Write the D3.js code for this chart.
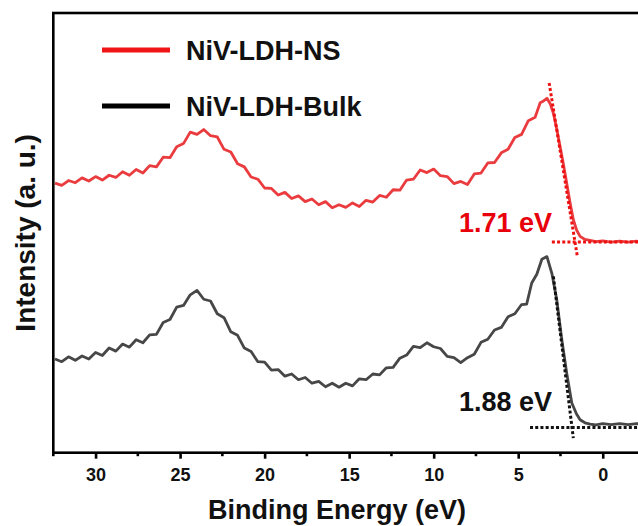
<!DOCTYPE html>
<html><head><meta charset="utf-8">
<script src="https://cdn.jsdelivr.net/npm/d3@7/dist/d3.min.js"></script>
<style>body{margin:0;background:#fff;} text{font-family:"Liberation Sans",Arial,sans-serif;font-weight:bold;}</style>
</head><body>
<script>
// Binding energy (eV) and intensity (a.u.)
const nsEnergy = [32.4,32.0,31.6,31.2,30.8,30.4,30.0,29.6,29.2,28.8,28.4,28.0,27.6,27.2,26.8,26.4,26.0,25.6,25.2,24.8,24.4,24.0,23.6,23.2,22.8,22.4,22.0,21.6,21.2,20.8,20.4,20.0,19.6,19.2,18.8,18.4,18.0,17.6,17.2,16.8,16.4,16.0,15.6,15.2,14.8,14.4,14.0,13.6,13.2,12.8,12.4,12.0,11.6,11.2,10.8,10.4,10.0,9.6,9.2,8.8,8.4,8.0,7.6,7.2,6.8,6.4,6.0,5.6,5.2,4.8,4.4,4.0,3.7,3.5,3.3,3.1,2.92,2.72,2.52,2.32,2.13,1.94,1.74,1.54,1.34,1.05,0.75,0.4,0,-0.5,-1.0,-1.5,-2.0,-2.5];
const nsIntensity = [61.3,60.8,61.9,61.4,62.5,61.8,62.8,62.0,63.1,62.6,63.9,63.1,64.4,63.6,65.3,65.0,67.2,67.1,69.6,70.3,72.9,72.4,73.5,72.1,71.8,69.0,68.4,65.7,65.0,62.7,62.2,60.2,60.1,58.6,59.2,57.8,58.4,57.1,57.7,56.4,57.1,55.7,56.4,55.8,56.8,56.0,57.4,57.0,58.5,58.1,59.8,59.7,62.0,62.2,64.3,63.7,64.5,63.0,62.8,61.2,61.7,61.0,63.4,63.6,65.9,66.0,68.2,69.0,71.7,72.4,75.5,76.3,79.6,80.0,80.6,79.3,77.2,73.6,69.6,65.5,61.3,57.0,53.0,50.6,49.2,48.5,48.3,48.0,48.2,47.9,48.1,47.9,48.1,48.0];
const bulkEnergy = [32.4,32.0,31.6,31.2,30.8,30.4,30.0,29.6,29.2,28.8,28.4,28.0,27.6,27.2,26.8,26.4,26.0,25.6,25.2,24.8,24.4,24.0,23.6,23.2,22.8,22.4,22.0,21.6,21.2,20.8,20.4,20.0,19.6,19.2,18.8,18.4,18.0,17.6,17.2,16.8,16.4,16.0,15.6,15.2,14.8,14.4,14.0,13.6,13.2,12.8,12.4,12.0,11.6,11.2,10.8,10.4,10.0,9.6,9.2,8.8,8.4,8.0,7.6,7.2,6.8,6.4,6.0,5.6,5.2,4.8,4.5,4.2,3.9,3.6,3.3,3.01,2.72,2.42,2.13,1.83,1.55,1.34,1.05,0.75,0.4,0,-0.5,-1.0,-1.5,-2.0,-2.5];
const bulkIntensity = [21.3,20.7,21.8,21.0,22.0,21.3,22.8,22.1,23.8,23.1,24.7,24.0,25.7,25.0,26.8,26.9,29.6,30.3,33.1,33.5,35.9,36.9,34.9,34.5,31.6,30.7,27.5,26.7,23.8,23.0,20.7,20.6,18.8,18.9,17.4,17.9,16.6,17.1,15.8,16.2,15.0,15.8,14.9,15.8,15.2,16.8,16.6,17.9,17.7,19.3,19.4,21.5,22.2,24.2,23.9,25.0,24.1,23.7,21.9,21.6,20.5,21.6,22.4,25.1,25.8,27.9,28.5,30.9,31.6,33.7,33.8,38.6,40.6,44.0,44.6,40.8,34.8,25.7,18.1,11.3,8.8,7.5,6.8,6.5,6.3,6.6,6.4,6.6,6.4,6.6,6.5];
const seriesNames = ["NiV-LDH-NS","NiV-LDH-Bulk"];
const gapLabels = ["1.71 eV","1.88 eV"];
// tangent (extrapolation) lines: [energy, intensity] pairs
const nsEdgeLine = [[3.17,84.1],[1.50,44.6]];
const nsBaseLine = [[3.01,47.9],[-2.5,47.9]];
const bulkEdgeLine = [[2.92,40.1],[1.74,3.3]];
const bulkBaseLine = [[4.30,5.75],[-2.5,5.75]];
const xTicks = [30,25,20,15,10,5,0];
const xMinorTicks = [32.5,27.5,22.5,17.5,12.5,7.5,2.5,-2.5];

const W=638,H=526;
const L=53.3,R=645,T=13,B=452.7;
const svg=d3.select("body").append("svg").attr("width",W).attr("height",H);
const x=d3.scaleLinear().domain([32.5,-2.5]).range([L,R]);
const y=d3.scaleLinear().domain([0,100]).range([B,T]);

svg.append("defs").append("clipPath").attr("id","clip").append("rect")
  .attr("x",L).attr("y",T).attr("width",R-L).attr("height",B-T);
const g=svg.append("g").attr("clip-path","url(#clip)");

const line=d3.line().x(d=>x(d[0])).y(d=>y(d[1]));
const ns=nsEnergy.map((e,i)=>[e,nsIntensity[i]]);
const bulk=bulkEnergy.map((e,i)=>[e,bulkIntensity[i]]);
g.append("path").datum(ns).attr("d",line).attr("fill","none").attr("stroke","#ea3c3f").attr("stroke-width",2.8).attr("stroke-linejoin","round");
g.append("path").datum(bulk).attr("d",line).attr("fill","none").attr("stroke","#474747").attr("stroke-width",2.8).attr("stroke-linejoin","round");

function dotted(data,color){
  g.append("path").datum(data).attr("d",line).attr("fill","none").attr("stroke",color)
   .attr("stroke-width",3).attr("stroke-dasharray","3,2.2");
}
dotted(nsEdgeLine,"#ee1111");
dotted(nsBaseLine,"#ee1111");
dotted(bulkEdgeLine,"#111");
dotted(bulkBaseLine,"#111");

// frame
svg.append("rect").attr("x",L).attr("y",T).attr("width",R-L).attr("height",B-T)
  .attr("fill","none").attr("stroke","#000").attr("stroke-width",2.6);

// x axis
const ax=svg.append("g").attr("transform",`translate(0,${B})`)
  .call(d3.axisBottom(x).tickValues(xTicks).tickSize(6).tickSizeOuter(0).tickFormat(d3.format("d")));
ax.select(".domain").remove();
ax.selectAll(".tick line").attr("stroke","#000").attr("stroke-width",2.6);
ax.selectAll(".tick text").attr("y",16).attr("dy","0.71em").attr("font-size",18).attr("fill","#111")
  .style("font-family","'Liberation Sans',Arial,sans-serif").style("font-weight","bold");
svg.append("g").selectAll("line").data(xMinorTicks).join("line")
  .attr("x1",d=>x(d)).attr("x2",d=>x(d)).attr("y1",B).attr("y2",B+3.5)
  .attr("stroke","#000").attr("stroke-width",2.6);

svg.append("text").attr("x",337).attr("y",519).attr("text-anchor","middle")
  .attr("font-size",27).attr("fill","#111").text("Binding Energy (eV)");
svg.append("text").attr("transform",`translate(35,${(T+B)/2}) rotate(-90)`).attr("text-anchor","middle")
  .attr("font-size",28).attr("fill","#111").text("Intensity (a. u.)");

// legend
const legColors=["#f01414","#000"];
const legY=[50,106];
seriesNames.forEach((n,i)=>{
  svg.append("line").attr("x1",102).attr("x2",170).attr("y1",legY[i]).attr("y2",legY[i])
    .attr("stroke",legColors[i]).attr("stroke-width",5);
  svg.append("text").attr("x",186).attr("y",legY[i]+10).attr("font-size",27).attr("fill","#111").text(n);
});

// gap labels
svg.append("text").attr("x",552).attr("y",232).attr("text-anchor","end").attr("font-size",27).attr("fill","#e8000b").text(gapLabels[0]);
svg.append("text").attr("x",552).attr("y",411).attr("text-anchor","end").attr("font-size",27).attr("fill","#111").text(gapLabels[1]);
</script>
</body></html>
